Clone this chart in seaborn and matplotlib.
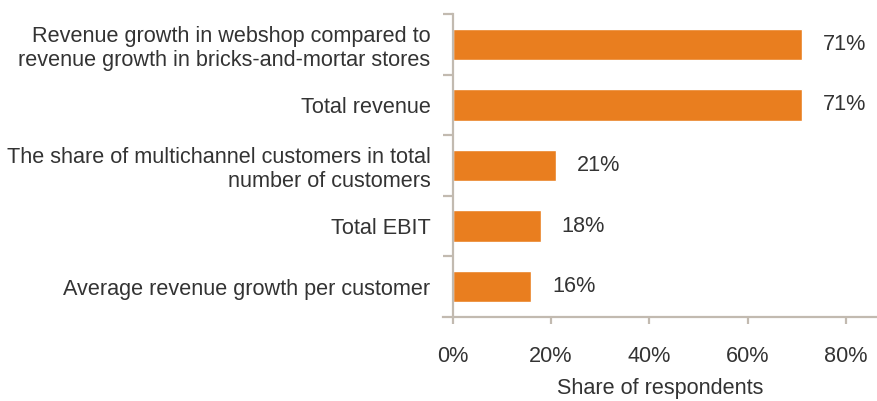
import numpy as np
import pandas as pd
import matplotlib
matplotlib.use('Agg')
import matplotlib.pyplot as plt
import seaborn as sns
from matplotlib.ticker import FixedLocator, FuncFormatter

# 数据
categories = ['Revenue growth in webshop compared to\nrevenue growth in bricks-and-mortar stores',
              'Total revenue',
              'The share of multichannel customers in total\nnumber of customers',
              'Total EBIT',
              'Average revenue growth per customer']
values = [71, 71, 21, 18, 16]
x_ticks = [0, 20, 40, 60, 80]

df = pd.DataFrame({'category': categories, 'share': values})

sns.set_theme(style='white')
plt.rcParams['font.family'] = ['Liberation Sans', 'DejaVu Sans']
text_color = '#333333'
axis_color = '#c2bab0'
bar_color = '#e97e1f'
fs = 15.6

fig = plt.figure(figsize=(8.77, 4.01), dpi=100)
ax = fig.add_axes([0.505, 0.2095, 0.495, 0.7555])

sns.barplot(data=df, x='share', y='category', color=bar_color, width=0.52,
            saturation=1, ax=ax, orient='h')

ax.set_xlim(-2, 86.3)
ax.set_ylim(4.5, -0.5)

# 坐标轴样式
for s in ['top', 'right']:
    ax.spines[s].set_visible(False)
ax.spines['left'].set_position(('data', 0))
ax.spines['left'].set_color(axis_color)
ax.spines['bottom'].set_color(axis_color)
ax.spines['left'].set_linewidth(1.6)
ax.spines['bottom'].set_linewidth(1.6)

ax.set_xticks(x_ticks)
ax.xaxis.set_major_formatter(FuncFormatter(lambda v, p: f'{v:.0f}%'))
ax.tick_params(axis='x', direction='out', length=5, width=1.6, color=axis_color,
               labelsize=fs, labelcolor=text_color, pad=16, bottom=True)
ax.set_yticks(range(len(categories)), labels=categories,
              multialignment='right', linespacing=1.2)
ax.tick_params(axis='y', which='major', length=0, labelsize=fs, labelcolor=text_color, pad=16)
ax.yaxis.set_minor_locator(FixedLocator(np.arange(-0.5, 4.0, 1.0)))
ax.tick_params(axis='y', which='minor', direction='out', length=7, width=1.6,
               color=axis_color, left=True)

ax.set_ylabel('')
ax.set_xlabel('Share of respondents', fontsize=fs, color=text_color)
ax.xaxis.set_label_coords(0.5, -0.2)

# 数值标签
for i, v in enumerate(values):
    ax.text(v + 4.2, i, f'{v}%', va='center', ha='left', fontsize=fs, color=text_color)

fig.savefig('out.png', dpi=100)
